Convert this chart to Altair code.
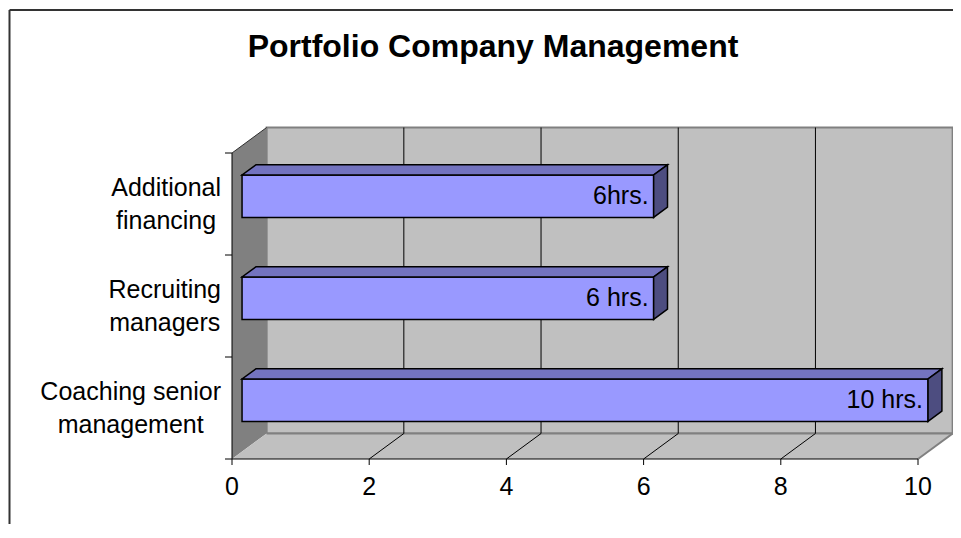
import altair as alt
import pandas as pd

# ---------------- data ----------------
categories = ["Coaching senior management", "Recruiting managers", "Additional financing"]
label_lines = [["Coaching senior", "management"], ["Recruiting", "managers"], ["Additional", "financing"]]
hours = [10, 6, 6]
value_labels = ["10 hrs.", "6 hrs.", "6hrs."]
x_ticks = [0, 2, 4, 6, 8, 10]
title_text = "Portfolio Company Management"

# ---------------- 3-D geometry (in data units) ----------------
XMAX = 10
NCAT = len(categories)
DX, DY = 0.505, 0.25      # depth of the box (back wall offset)
F0, F1 = 0.29, 0.69       # bar front / back depth fractions
B0, B1 = 0.296, 0.712     # bar extent inside its category band
W, H = 686, 306           # plot size in px
XTICK = 6 / H * NCAT      # x tick length (6px) in y units
YTICK = 7 / W * XMAX      # y tick length (7px) in x units

FONT = "Liberation Sans"
FS = 25
LH = 33

xs = alt.Scale(domain=[0, XMAX], nice=False, zero=False)
ys = alt.Scale(domain=[0, NCAT], nice=False, zero=False)


def X(f, **kw):
    return alt.X(f, type="quantitative", scale=xs, axis=None, **kw)


def Y(f, **kw):
    return alt.Y(f, type="quantitative", scale=ys, axis=None, **kw)


def seg(df, color, width):
    enc = dict(x=X("x"), y=Y("y"))
    if "x2" in df:
        enc["x2"] = "x2"
    if "y2" in df:
        enc["y2"] = "y2"
    return alt.Chart(df).mark_rule(color=color, strokeWidth=width).encode(**enc)


# back wall
back_df = pd.DataFrame({"x": [DX], "x2": [XMAX + DX], "y": [DY], "y2": [NCAT + DY]})
back = alt.Chart(back_df).mark_rect(fill="#C0C0C0", stroke="#808080", strokeWidth=2).encode(
    x=X("x"), x2="x2", y=Y("y"), y2="y2")

# left wall
left_df = pd.DataFrame({"x": [0, DX], "ylo": [0, DY], "yhi": [NCAT, NCAT + DY]})
left = alt.Chart(left_df).mark_area(orient="vertical", fill="#808080").encode(
    x=X("x"), y=Y("ylo", stack=False), y2="yhi")
left_top = seg(pd.DataFrame({"x": [0], "y": [NCAT], "x2": [DX], "y2": [NCAT + DY]}), "#303030", 1)

# floor
floor_df = pd.DataFrame({"y": [0, DY], "xl": [0, DX], "xr": [XMAX, XMAX + DX]})
floor = alt.Chart(floor_df).mark_area(orient="horizontal", fill="#C0C0C0").encode(
    y=Y("y"), x=X("xl", stack=False), x2="xr")
floor_edge = seg(pd.DataFrame({"x": [XMAX], "y": [0], "x2": [XMAX + DX], "y2": [DY]}), "#808080", 2)
floor_back = seg(pd.DataFrame({"x": [DX], "x2": [XMAX + DX], "y": [DY]}), "#808080", 2)

# grid lines on back wall and floor
inner = x_ticks[1:-1]
grid = seg(pd.DataFrame({"x": [v + DX for v in inner], "y": [DY] * len(inner),
                         "y2": [NCAT + DY] * len(inner)}), "black", 1)
diag = seg(pd.DataFrame({"x": inner, "y": [0] * len(inner),
                         "x2": [v + DX for v in inner], "y2": [DY] * len(inner)}), "black", 1)

# front-plane axes
x_dom = seg(pd.DataFrame({"x": [0], "x2": [XMAX], "y": [0]}), "black", 1)
x_tk = seg(pd.DataFrame({"x": x_ticks, "y": [0] * len(x_ticks),
                         "y2": [-XTICK] * len(x_ticks)}), "black", 1)
x_lab = alt.Chart(pd.DataFrame({"x": x_ticks, "y": [0] * len(x_ticks),
                                "t": [str(v) for v in x_ticks]})).mark_text(
    align="center", baseline="alphabetic", dy=36, font=FONT, fontSize=FS, color="black").encode(
    x=X("x"), y=Y("y"), text="t:N")
y_dom = seg(pd.DataFrame({"x": [0], "y": [0], "y2": [NCAT]}), "black", 1)
y_tk = seg(pd.DataFrame({"x": [0] * (NCAT + 1), "x2": [-YTICK] * (NCAT + 1),
                         "y": list(range(NCAT + 1))}), "black", 1)

# bars
front_rows, top_rows, side_rows, lab_rows = [], [], [], []
for i, (c, v, lab) in enumerate(zip(categories, hours, value_labels)):
    front_rows.append({"cat": c, "x": F0 * DX, "x2": v + F0 * DX,
                       "y": i + B0 + F0 * DY, "y2": i + B1 + F0 * DY})
    for f in (F0, F1):
        top_rows.append({"cat": c, "y": i + B1 + f * DY, "xl": f * DX, "xr": v + f * DX})
        side_rows.append({"cat": c, "x": v + f * DX, "ylo": i + B0 + f * DY,
                          "yhi": i + B1 + f * DY})
    lab_rows.append({"cat": c, "x": v + F0 * DX, "y": i + (B0 + B1) / 2 + F0 * DY, "t": lab})

front = alt.Chart(pd.DataFrame(front_rows)).mark_rect(
    fill="#9999FF", stroke="black", strokeWidth=1.5).encode(
    x=X("x"), x2="x2", y=Y("y"), y2="y2")

top = alt.Chart(pd.DataFrame(top_rows)).mark_area(
    orient="horizontal", fill="#7373BF", stroke="black", strokeWidth=1.5).encode(
    y=Y("y"), x=X("xl", stack=False), x2="xr", detail="cat:N")

side = alt.Chart(pd.DataFrame(side_rows)).mark_area(
    orient="vertical", fill="#4D4D80", stroke="black", strokeWidth=1.5).encode(
    x=X("x"), y=Y("ylo", stack=False), y2="yhi", detail="cat:N")

vlabels = alt.Chart(pd.DataFrame(lab_rows)).mark_text(
    align="right", baseline="middle", dx=-5, font=FONT, fontSize=FS, color="black").encode(
    x=X("x"), y=Y("y"), text="t:N")

# category labels (lines centred, block right-aligned to the axis)
AW = {"A": 667, "C": 722, "R": 722, "a": 556, "c": 500, "d": 556, "e": 556, "f": 278,
      "g": 556, "h": 556, "i": 222, "l": 222, "m": 833, "n": 556, "o": 556, "r": 333,
      "s": 500, "t": 278, "u": 556, " ": 278}


def text_w(s):
    return sum(AW.get(ch, 556) for ch in s) / 1000 * FS


cat_layers = []
for i, lines in enumerate(label_lines):
    w = max(text_w(s) for s in lines)
    df = pd.DataFrame({"x": [0], "y": [i + 0.5], "t": ["\n".join(lines)]})
    cat_layers.append(alt.Chart(df).mark_text(
        align="center", baseline="middle", dx=-(11 + w / 2), dy=-LH * (len(lines) - 1) / 2,
        font=FONT, fontSize=FS, lineHeight=LH, lineBreak="\n", color="black").encode(
        x=X("x"), y=Y("y"), text="t:N"))

# outer frame of the chart object
one = pd.DataFrame({"k": [0]})
frame_v = alt.Chart(one).mark_rule(color="#333333", strokeWidth=2).encode(
    x=alt.value(-222.5), y=alt.value(-143), y2=alt.value(400))
frame_h = alt.Chart(one).mark_rule(color="#333333", strokeWidth=2).encode(
    x=alt.value(-222.5), x2=alt.value(730), y=alt.value(-143))

chart = alt.layer(
    back, left, left_top, floor, floor_back, floor_edge, grid, diag,
    x_dom, x_tk, x_lab, y_dom, y_tk,
    front, top, side, vlabels, *cat_layers, frame_v, frame_h,
).properties(
    width=W, height=H,
    padding={"left": 224, "top": 145, "right": 35, "bottom": 65},
    autosize=alt.AutoSizeParams(type="none"),
    title=alt.TitleParams(title_text, font=FONT, fontSize=32, fontWeight="bold",
                          color="black", anchor="middle", frame="group", dx=-82, offset=-55),
).configure(background="white").configure_view(stroke=None)

chart.save("out.html", embed_options={"renderer": "svg", "actions": False})
